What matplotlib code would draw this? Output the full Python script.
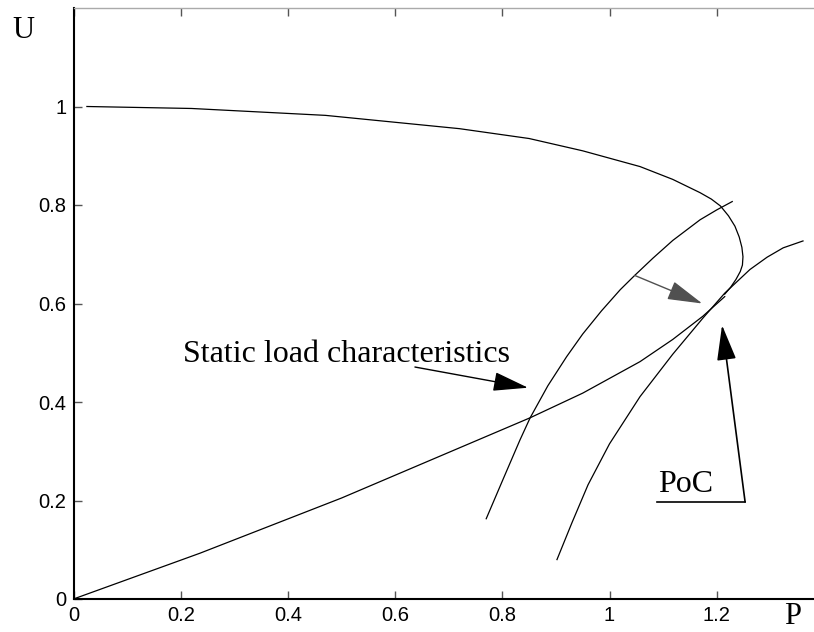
import matplotlib
matplotlib.use("Agg")
import matplotlib.pyplot as plt

# nose (PV) curve
nose_p = [0.025, 0.22, 0.47, 0.72, 0.85, 0.95, 1.057, 1.118, 1.169, 1.19, 1.207,
          1.222, 1.234, 1.242, 1.247, 1.249, 1.248, 1.244, 1.236, 1.226, 1.215]
nose_u = [1.0, 0.996, 0.982, 0.955, 0.935, 0.91, 0.878, 0.852, 0.825, 0.812, 0.798,
          0.778, 0.757, 0.735, 0.714, 0.695, 0.678, 0.665, 0.649, 0.633, 0.619]

# static load characteristic from origin
load_p = [0.0, 0.236, 0.5, 0.852, 0.95, 1.057, 1.118, 1.174, 1.215]
load_u = [0.0, 0.093, 0.205, 0.368, 0.418, 0.482, 0.527, 0.574, 0.614]

# left steep characteristic
left_p = [0.770, 0.801, 0.833, 0.852, 0.885, 0.92, 0.95, 0.985, 1.020, 1.047, 1.081,
          1.118, 1.169, 1.2, 1.229]
left_u = [0.163, 0.242, 0.323, 0.368, 0.433, 0.492, 0.538, 0.585, 0.628, 0.657, 0.692,
          0.728, 0.77, 0.79, 0.807]

# right steep characteristic
right_p = [0.902, 0.93, 0.96, 1.0, 1.057, 1.118, 1.174, 1.215, 1.262, 1.294, 1.324, 1.361]
right_u = [0.08, 0.155, 0.232, 0.315, 0.411, 0.497, 0.57, 0.621, 0.669, 0.694, 0.713, 0.727]

xticks = [0, 0.2, 0.4, 0.6, 0.8, 1, 1.2]
xlabels = ["0", "0.2", "0.4", "0.6", "0.8", "1", "1.2"]
yticks = [0, 0.2, 0.4, 0.6, 0.8, 1]
ylabels = ["0", "0.2", "0.4", "0.6", "0.8", "1"]

serif = "Liberation Serif"
sans = "Liberation Sans"

fig = plt.figure(figsize=(8.14, 6.32), dpi=100)
ax = fig.add_axes([73.5 / 814, 33 / 632, 750.4 / 814, 591 / 632])

lw = 0.9
ax.plot(nose_p, nose_u, color="black", lw=lw)
ax.plot(load_p, load_u, color="black", lw=lw)
ax.plot(left_p, left_u, color="black", lw=lw)
ax.plot(right_p, right_u, color="black", lw=lw)

ax.set_xlim(0, 1.4)
ax.set_ylim(0, 1.2)
ax.set_xticks(xticks)
ax.set_xticklabels(xlabels, family=sans, fontsize=14.5)
ax.set_yticks(yticks)
ax.set_yticklabels(ylabels, family=sans, fontsize=14.5)
ax.tick_params(direction="in", length=6, width=1, color="#555555",
               top=True, right=False, pad=5)

for s in ["left", "bottom"]:
    ax.spines[s].set_linewidth(1.5)
    ax.spines[s].set_color("black")
ax.spines["top"].set_color("#aaaaaa")
ax.spines["top"].set_linewidth(1.0)
ax.spines["right"].set_visible(False)

# gray arrow on the left characteristic
ax.annotate("", xy=(1.173, 0.600), xytext=(1.047, 0.657),
            arrowprops=dict(arrowstyle="-|>,head_length=2.2,head_width=0.6",
                            mutation_scale=10, color="#505050", lw=1.0,
                            shrinkA=0, shrinkB=0))

# static load characteristics label
ax.text(0.204, 0.482, "Static load characteristics", family=serif, fontsize=23,
        ha="left", va="baseline")
ax.annotate("", xy=(0.848, 0.429), xytext=(0.637, 0.471),
            arrowprops=dict(arrowstyle="-|>,head_length=2.2,head_width=0.6",
                            mutation_scale=10, color="black", lw=1.0,
                            shrinkA=0, shrinkB=0))

# PoC label
ax.text(1.091, 0.217, "PoC", family=serif, fontsize=23, ha="left", va="baseline")
ax.plot([1.089, 1.253], [0.197, 0.197], color="black", lw=1.2)
ax.annotate("", xy=(1.210, 0.556), xytext=(1.253, 0.197),
            arrowprops=dict(arrowstyle="-|>,head_length=2.2,head_width=0.6",
                            mutation_scale=10, color="black", lw=1.2,
                            shrinkA=0, shrinkB=0))

fig.text(23 / 814, 1 - 31 / 632, "U", family=serif, fontsize=22, ha="center", va="center")
fig.text(793 / 814, 1 - 631 / 632, "P", family=serif, fontsize=22, ha="center", va="bottom")

fig.savefig("out.png", dpi=100)
